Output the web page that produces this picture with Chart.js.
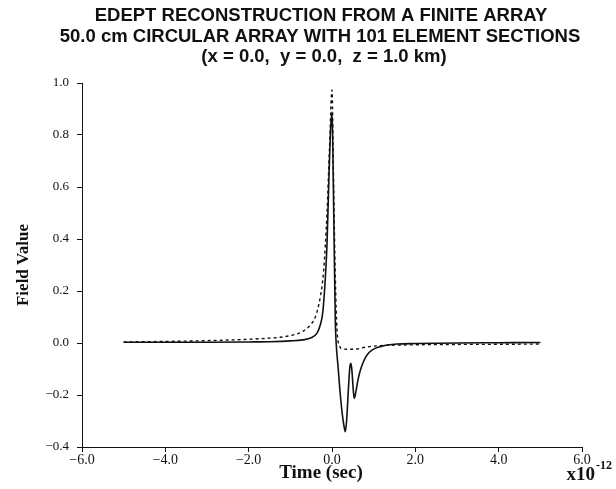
<!DOCTYPE html>
<html>
<head>
<meta charset="utf-8">
<script src="https://cdn.jsdelivr.net/npm/chart.js@4/dist/chart.umd.min.js"></script>
<style>
  html, body { margin: 0; padding: 0; background: #fff; }
  #wrap { width: 616px; height: 489px; }
</style>
</head>
<body>
<div id="wrap"><canvas id="edept_chart_area"></canvas></div>
<script>
"use strict";

// Title lines and axis labels
var titleLines = [
    "EDEPT RECONSTRUCTION FROM A FINITE ARRAY",
    "50.0 cm CIRCULAR ARRAY WITH 101 ELEMENT SECTIONS",
    "(x = 0.0,  y = 0.0,  z = 1.0 km)"
];
var xTitle = "Time (sec)";
var yTitle = "Field Value";

// Reconstructed field (solid line), time in units of 1e-12 s
var solidTime = [-5.0, -4.0, -3.0, -2.0, -1.5, -1.0, -0.7, -0.5, -0.36, -0.28, -0.22, -0.16, -0.12, -0.08, -0.04, 0.0,
    0.02, 0.05, 0.08, 0.10, 0.15, 0.20, 0.26, 0.30, 0.32, 0.35, 0.40, 0.43, 0.455, 0.48, 0.51, 0.535, 0.57, 0.62,
    0.68, 0.76, 0.84, 0.95, 1.16, 1.56, 2.0, 3.0, 4.0, 5.0];
var solidValue = [0.003, 0.003, 0.003, 0.004, 0.005, 0.008, 0.012, 0.020, 0.038, 0.070, 0.120, 0.250, 0.380, 0.600, 0.800, 0.888,
    0.750, 0.400, 0.080, 0.000, -0.100, -0.200, -0.290, -0.330, -0.341, -0.300, -0.160, -0.090, -0.078, -0.110, -0.180, -0.213, -0.190, -0.145,
    -0.105, -0.070, -0.046, -0.028, -0.014, -0.004, -0.002, 0.000, 0.001, 0.002];

// Exact field (dashed line)
var dashedTime = [-5.0, -4.0, -3.0, -2.37, -1.56, -1.24, -0.93, -0.7, -0.52, -0.4, -0.28, -0.2, -0.12, -0.06, 0.0,
    0.04, 0.08, 0.12, 0.18, 0.24, 0.4, 0.6, 0.8, 1.16, 1.6, 2.5, 4.0, 5.0];
var dashedValue = [0.004, 0.006, 0.009, 0.012, 0.018, 0.022, 0.031, 0.045, 0.069, 0.100, 0.178, 0.280, 0.500, 0.750, 0.973,
    0.600, 0.250, 0.050, -0.010, -0.022, -0.024, -0.023, -0.016, -0.010, -0.008, -0.006, -0.005, -0.004];

function toPoints(xs, ys) {
    return xs.map(function (x, i) { return { x: x, y: ys[i] }; });
}

function tickText(v) {
    if (Math.abs(v) < 1e-9) v = 0;
    return v.toFixed(1).replace("-", "\u2212");
}

// title, axis titles and exponent drawn at fixed spots
var textPlugin = {
    id: "edeptText",
    afterDraw: function (chart) {
        var ctx = chart.ctx;
        ctx.save();
        ctx.fillStyle = "#111";
        ctx.textAlign = "center";
        ctx.textBaseline = "middle";
        ctx.font = "bold 18.5px 'Liberation Sans', Arial, sans-serif";
        ctx.fillText(titleLines[0], 321, 16);
        ctx.fillText(titleLines[1], 320, 37);
        ctx.fillText(titleLines[2], 324, 57);

        ctx.font = "bold 19px 'Liberation Serif', 'Times New Roman', serif";
        ctx.fillText(xTitle, 321, 473);

        ctx.save();
        ctx.translate(24, 265);
        ctx.rotate(-Math.PI / 2);
        ctx.font = "bold 17px 'Liberation Serif', 'Times New Roman', serif";
        ctx.fillText(yTitle, 0, 0);
        ctx.restore();

        // exponent of the time axis
        ctx.textAlign = "right";
        ctx.font = "bold 19px 'Liberation Serif', 'Times New Roman', serif";
        ctx.fillText("x10", 595, 475);
        ctx.textAlign = "left";
        ctx.font = "bold 12px 'Liberation Serif', 'Times New Roman', serif";
        ctx.fillText("-12", 596, 466);
        ctx.restore();
    }
};

var chartArea = document.getElementById("edept_chart_area");
var edeptChart = new Chart(chartArea, {
    type: "line",
    data: {
        datasets: [
            {
                label: "Reconstruction",
                data: toPoints(solidTime, solidValue),
                borderColor: "#111",
                borderWidth: 1.6,
                pointRadius: 0,
                cubicInterpolationMode: "monotone",
                fill: false
            },
            {
                label: "Exact",
                data: toPoints(dashedTime, dashedValue),
                borderColor: "#111",
                borderWidth: 1.4,
                borderDash: [3, 3],
                pointRadius: 0,
                cubicInterpolationMode: "monotone",
                fill: false
            }
        ]
    },
    options: {
        responsive: true,
        maintainAspectRatio: false,
        animation: false,
        layout: { padding: { top: 83, right: 34, left: 0, bottom: 0 } },
        plugins: {
            legend: { display: false },
            title: { display: false },
            tooltip: { enabled: false }
        },
        scales: {
            x: {
                type: "linear",
                min: -6,
                max: 6,
                afterFit: function (scale) { scale.height = 42; },
                ticks: {
                    stepSize: 2,
                    color: "#111",
                    padding: 0,
                    maxRotation: 0,
                    font: { family: "'Liberation Serif', 'Times New Roman', serif", size: 14 },
                    callback: function (v) { return tickText(v); }
                },
                grid: { display: true, drawOnChartArea: false, drawTicks: true, tickLength: 5, color: "#111" },
                border: { display: true, color: "#111", width: 1 }
            },
            y: {
                type: "linear",
                min: -0.4,
                max: 1.0,
                afterFit: function (scale) { scale.width = 82; },
                ticks: {
                    stepSize: 0.2,
                    color: "#111",
                    padding: 8,
                    font: { family: "'Liberation Serif', 'Times New Roman', serif", size: 13 },
                    callback: function (v) { return tickText(v); }
                },
                grid: { display: true, drawOnChartArea: false, drawTicks: true, tickLength: 5, color: "#111" },
                border: { display: true, color: "#111", width: 1 }
            }
        }
    },
    plugins: [textPlugin]
});
</script>
</body>
</html>
